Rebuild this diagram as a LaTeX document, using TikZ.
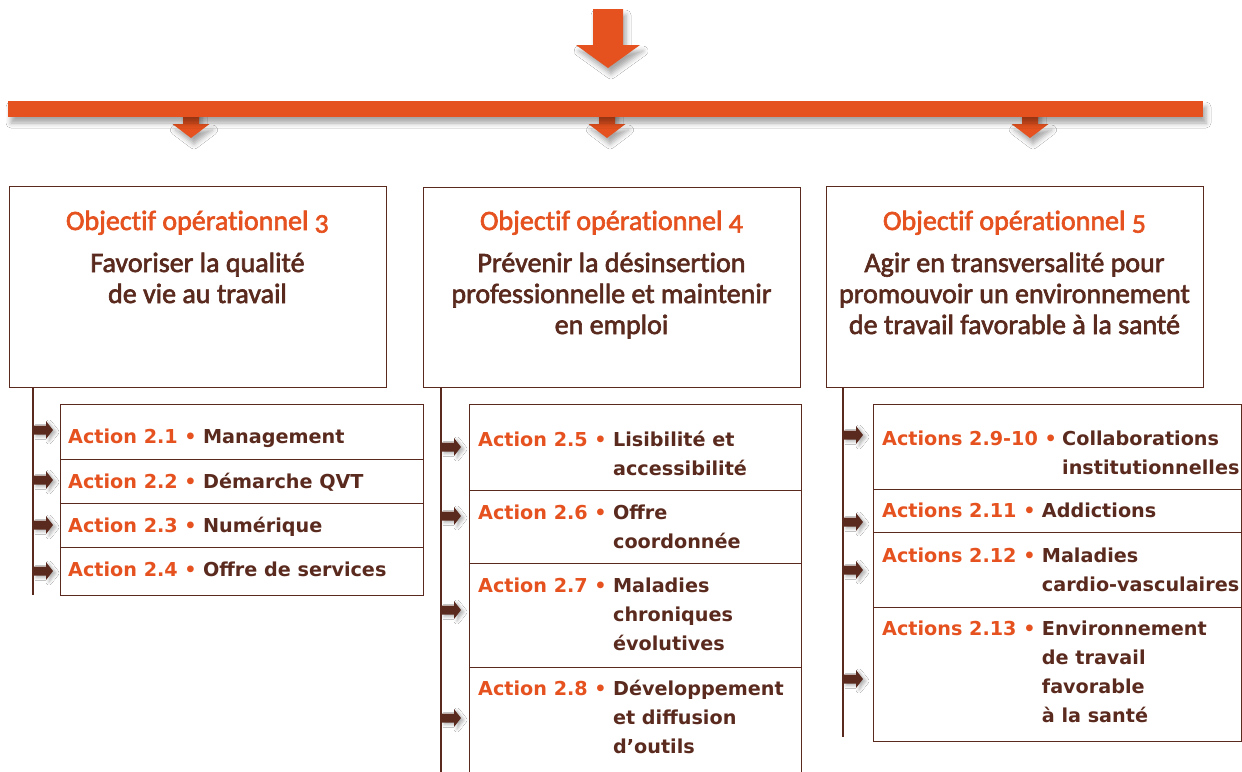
\documentclass[tikz,border=0pt]{standalone}
\usepackage{fontspec}
\setmainfont{DejaVu Sans}
\newfontfamily\titlefont{Carlito}[Numbers=OldStyle,FakeBold=2.2,Ligatures={NoCommon}]
\usetikzlibrary{arrows.meta,shadows.blur}
\definecolor{orng}{HTML}{E6521F}
\definecolor{brwn}{HTML}{5A2A1E}
\newcommand{\desclines}[1]{\begin{tabular}[t]{@{}l@{}}#1\end{tabular}}
\tikzset{
  objbox/.style={draw=brwn, line width=1.3pt, fill=white, anchor=north west, inner sep=0pt},
  rowbox/.style={draw=brwn, line width=1.3pt, anchor=north west, inner sep=0pt},
  objtitle/.style={text=orng, anchor=base, inner sep=0pt, font=\titlefont\fontsize{28}{31}\selectfont},
  objsub/.style={text=brwn, anchor=base, inner sep=0pt, font=\titlefont\fontsize{28}{31}\selectfont},
  actlabel/.style={text=orng, anchor=base west, inner sep=0pt, font=\bfseries\fontsize{19.2}{29}\selectfont},
  actdesc/.style={text=brwn, anchor=base west, inner sep=0pt, font=\bfseries\fontsize{19.2}{29}\selectfont},
  vline/.style={draw=brwn, line width=1.3pt},
  oshadow/.style={blur shadow={shadow xshift=3pt, shadow yshift=-6pt, shadow blur radius=5pt, shadow opacity=35}},
  rarr/.pic={\fill[brwn, blur shadow={shadow xshift=3pt, shadow yshift=-2pt, shadow blur radius=3pt, shadow opacity=30}]
     (0,-4.5) -- (13,-4.5) -- (13,-9) -- (20,0) -- (13,9) -- (13,4.5) -- (0,4.5) -- cycle;},
  darr/.pic={\fill[orng, oshadow] (-8,-12) -- (8,-12) -- (8,7) -- (18.5,7) -- (0,21) -- (-18.5,7) -- (-8,7) -- cycle;}
}
\begin{document}
\begin{tikzpicture}[x=1pt,y=-1pt]
\useasboundingbox (0,0) rectangle (1242,771);
\fill[white] (0,0) rectangle (1242,771);
% top arrow
\fill[orng, oshadow] (593,9) -- (623,9) -- (623,45) -- (640,45) -- (608,68) -- (576,45) -- (593,45) -- cycle;
% small arrows under bar
\pic (d3) at (191,117) {darr};
\pic (d4) at (607,117) {darr};
\pic (d5) at (1030,117) {darr};
% bar
\fill[orng, oshadow] (8,101) rectangle (1203,117);

% vertical lines
\coordinate (l3a) at (33,387);  \coordinate (l3b) at (33,595);
\coordinate (l4a) at (441,387); \coordinate (l4b) at (441,790);
\coordinate (l5a) at (843,387); \coordinate (l5b) at (843,737);
\draw[vline] (l3a) -- (l3b);
\draw[vline] (l4a) -- (l4b);
\draw[vline] (l5a) -- (l5b);

% objective boxes
\node[objbox, minimum width=377pt, minimum height=201pt] (ob3) at (9,186) {};
\node[objbox, minimum width=377pt, minimum height=200pt] (ob4) at (423,187) {};
\node[objbox, minimum width=377pt, minimum height=201pt] (ob5) at (826,186) {};

\node[objtitle] (t3) at (197.5,230) {Objectif opérationnel 3};
\node[objsub] (s3a) at (197.5,272) {Favoriser la qualité};
\node[objsub] (s3b) at (197.5,303) {de vie au travail};

\node[objtitle] (t4) at (611.5,230) {Objectif opérationnel 4};
\node[objsub] (s4a) at (611.5,272) {Prévenir la désinsertion};
\node[objsub] (s4b) at (611.5,303) {professionnelle et maintenir};
\node[objsub] (s4c) at (611.5,334) {en emploi};

\node[objtitle] (t5) at (1014.5,230) {Objectif opérationnel 5};
\node[objsub] (s5a) at (1014.5,272) {Agir en transversalité pour};
\node[objsub] (s5b) at (1014.5,303) {promouvoir un environnement};
\node[objsub] (s5c) at (1014.5,334) {de travail favorable à la santé};

% group 1 rows
\node[rowbox, minimum width=363pt, minimum height=55pt] (r1) at (60,404) {};
\node[rowbox, minimum width=363pt, minimum height=44pt] (r2) at (60,459) {};
\node[rowbox, minimum width=363pt, minimum height=44pt] (r3) at (60,503) {};
\node[rowbox, minimum width=363pt, minimum height=48pt] (r4) at (60,547) {};
\node[actlabel] (a1) at (68,443) {Action 2.1 •};
\node[actdesc] (d1) at ([xshift=6pt]a1.base east) {Management};
\node[actlabel] (a2) at (68,488) {Action 2.2 •};
\node[actdesc] (d2) at ([xshift=6pt]a2.base east) {Démarche QVT};
\node[actlabel] (a3) at (68,532) {Action 2.3 •};
\node[actdesc] (d3t) at ([xshift=6pt]a3.base east) {Numérique};
\node[actlabel] (a4) at (68,576) {Action 2.4 •};
\node[actdesc] (d4t) at ([xshift=6pt]a4.base east) {Offre de services};
\pic (p1) at (33,430) {rarr};
\pic (p2) at (33,480) {rarr};
\pic (p3) at (33,525) {rarr};
\pic (p4) at (33,571) {rarr};

% group 2 rows
\node[rowbox, minimum width=332pt, minimum height=86pt] (r5) at (469,404) {};
\node[rowbox, minimum width=332pt, minimum height=73pt] (r6) at (469,490) {};
\node[rowbox, minimum width=332pt, minimum height=104pt] (r7) at (469,563) {};
\node[rowbox, minimum width=332pt, minimum height=130pt] (r8) at (469,667) {};
\node[actlabel] (a5) at (478,446) {Action 2.5 •};
\node[actdesc] (d5t) at ([xshift=6pt]a5.base east) {\desclines{Lisibilité et\\accessibilité}};
\node[actlabel] (a6) at (478,519) {Action 2.6 •};
\node[actdesc] (d6t) at ([xshift=6pt]a6.base east) {\desclines{Offre\\coordonnée}};
\node[actlabel] (a7) at (478,592) {Action 2.7 •};
\node[actdesc] (d7t) at ([xshift=6pt]a7.base east) {\desclines{Maladies\\chroniques\\évolutives}};
\node[actlabel] (a8) at (478,695) {Action 2.8 •};
\node[actdesc] (d8t) at ([xshift=6pt]a8.base east) {\desclines{Développement\\et diffusion\\d’outils}};
\pic (p5) at (441,447) {rarr};
\pic (p6) at (441,516) {rarr};
\pic (p7) at (441,610) {rarr};
\pic (p8) at (441,718) {rarr};

% group 3 rows
\node[rowbox, minimum width=368pt, minimum height=85pt] (r9) at (873,404) {};
\node[rowbox, minimum width=368pt, minimum height=43pt] (r11) at (873,489) {};
\node[rowbox, minimum width=368pt, minimum height=75pt] (r12) at (873,532) {};
\node[rowbox, minimum width=368pt, minimum height=134pt] (r13) at (873,607) {};
\node[actlabel] (a9) at (882,445) {Actions 2.9-10 •};
\node[actdesc] (d9t) at ([xshift=5pt]a9.base east) {\desclines{Collaborations\\institutionnelles}};
\node[actlabel] (a11) at (882,517) {Actions 2.11 •};
\node[actdesc] (d11t) at ([xshift=6pt]a11.base east) {Addictions};
\node[actlabel] (a12) at (882,562) {Actions 2.12 •};
\node[actdesc] (d12t) at ([xshift=6pt]a12.base east) {\desclines{Maladies\\cardio-vasculaires}};
\node[actlabel] (a13) at (882,635) {Actions 2.13 •};
\node[actdesc] (d13t) at ([xshift=6pt]a13.base east) {\desclines{Environnement\\de travail\\favorable\\à la santé}};
\pic (p9) at (843,435) {rarr};
\pic (p11) at (843,522) {rarr};
\pic (p12) at (843,570) {rarr};
\pic (p13) at (843,679) {rarr};
\end{tikzpicture}
\end{document}
